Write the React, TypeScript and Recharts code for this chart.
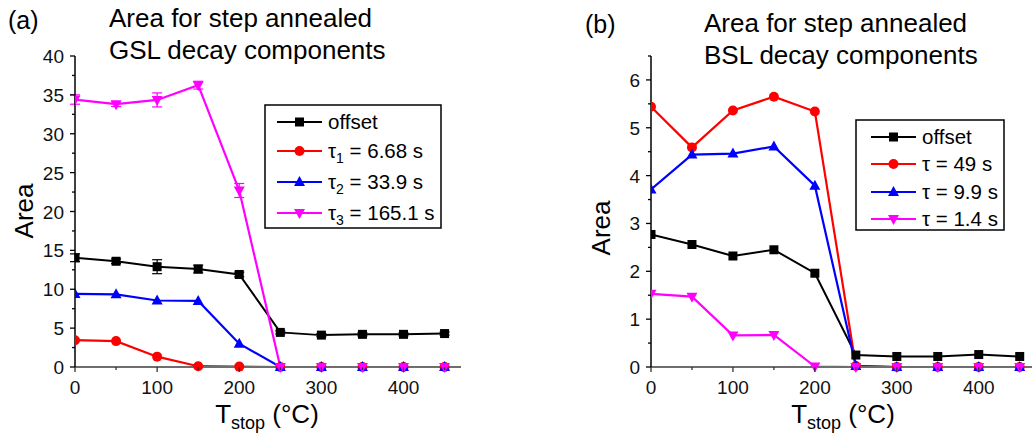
import React from 'react';
import { LineChart, Line, XAxis, YAxis, ErrorBar } from 'recharts';

const temps = [0, 50, 100, 150, 200, 250, 300, 350, 400, 450];

const gslOffset = [14.05, 13.6, 12.9, 12.6, 11.9, 4.45, 4.1, 4.2, 4.2, 4.3];
const gslOffsetErr = [0.5, 0.3, 0.9, 0.5, 0.3, 0.2, 0.2, 0.2, 0.2, 0.2];
const gslTau1 = [3.45, 3.33, 1.33, 0.1, 0.05, 0, 0, 0, 0, 0];
const gslTau2 = [9.4, 9.35, 8.55, 8.5, 3.0, 0, 0, 0, 0, 0];
const gslTau3 = [34.4, 33.8, 34.35, 36.25, 22.7, 0, 0, 0, 0, 0];
const gslTau3Err = [0.6, 0.3, 0.9, 0.5, 0.9, 0, 0, 0, 0, 0];

const bslOffset = [2.77, 2.56, 2.32, 2.45, 1.96, 0.25, 0.22, 0.22, 0.26, 0.22];
const bslTau49 = [5.44, 4.59, 5.36, 5.65, 5.34, 0.02, 0, 0, 0, 0];
const bslTau99 = [3.71, 4.44, 4.46, 4.61, 3.79, 0.02, 0, 0, 0, 0];
const bslTau14 = [1.53, 1.47, 0.66, 0.67, 0.01, 0, 0, 0, 0, 0];

const xTicks = [0, 50, 100, 150, 200, 250, 300, 350, 400, 450];
const yTicksA = [0, 2.5, 5, 7.5, 10, 12.5, 15, 17.5, 20, 22.5, 25, 27.5, 30, 32.5, 35, 37.5, 40];
const yTicksB = [0, 0.5, 1, 1.5, 2, 2.5, 3, 3.5, 4, 4.5, 5, 5.5, 6, 6.5];

const FONT = '"Liberation Sans", Arial, sans-serif';
const BLACK = '#000000';
const RED = '#ff0000';
const BLUE = '#0000ff';
const MAGENTA = '#ff00ff';

const dataA = temps.map((t, i) => ({
  t,
  offset: gslOffset[i],
  offsetErr: gslOffsetErr[i],
  tau1: gslTau1[i],
  tau2: gslTau2[i],
  tau3: gslTau3[i],
  tau3Err: gslTau3Err[i],
}));

const dataB = temps.map((t, i) => ({
  t,
  offset: bslOffset[i],
  tau49: bslTau49[i],
  tau99: bslTau99[i],
  tau14: bslTau14[i],
}));

type Shape = 'square' | 'circle' | 'up' | 'down';

function MarkerShape({ cx, cy, shape, color }: { cx: number; cy: number; shape: Shape; color: string }) {
  if (cx == null || cy == null || isNaN(cx) || isNaN(cy)) return null;
  if (shape === 'square') return <rect x={cx - 4.5} y={cy - 4.5} width={9} height={9} fill={color} />;
  if (shape === 'circle') return <circle cx={cx} cy={cy} r={5} fill={color} />;
  if (shape === 'up')
    return <polygon points={`${cx},${cy - 6} ${cx - 5.5},${cy + 4} ${cx + 5.5},${cy + 4}`} fill={color} />;
  return <polygon points={`${cx},${cy + 6} ${cx - 5.5},${cy - 4} ${cx + 5.5},${cy - 4}`} fill={color} />;
}

const dotFn = (shape: Shape, color: string) => (props: any) => (
  <g key={`dot-${shape}-${props.index}`}>
    <MarkerShape cx={props.cx} cy={props.cy} shape={shape} color={color} />
  </g>
);

const makeYTick = (isMajor: (v: number) => boolean) => (props: any) => {
  const { x, y, payload } = props;
  const v = payload.value;
  const major = isMajor(v);
  const len = major ? 5 : 3;
  return (
    <g>
      <line x1={x - len} x2={x} y1={y} y2={y} stroke="#000" strokeWidth={1.3} />
      {major && (
        <text x={x - 11} y={y + 7} textAnchor="end" fontSize={19} fontFamily={FONT} fill="#111">
          {v}
        </text>
      )}
    </g>
  );
};

const XTick = (props: any) => {
  const { x, y, payload } = props;
  const v = payload.value;
  const major = v % 100 === 0;
  return (
    <g>
      <line x1={x} x2={x} y1={y} y2={y + (major ? 5 : 3)} stroke="#333" strokeWidth={1.3} />
      {major && (
        <text x={x} y={y + 27} textAnchor="middle" fontSize={19} fontFamily={FONT} fill="#111">
          {v}
        </text>
      )}
    </g>
  );
};

const YTickA = makeYTick((v) => v % 5 === 0);
const YTickB = makeYTick((v) => Number.isInteger(v));

type LegendItem = { label: React.ReactNode; color: string; shape: Shape };

const legendA: LegendItem[] = [
  { label: 'offset', color: BLACK, shape: 'square' },
  { label: <>{'\u03c4'}<tspan fontSize={14} dy={5}>1</tspan><tspan dy={-5}>{' = 6.68 s'}</tspan></>, color: RED, shape: 'circle' },
  { label: <>{'\u03c4'}<tspan fontSize={14} dy={5}>2</tspan><tspan dy={-5}>{' = 33.9 s'}</tspan></>, color: BLUE, shape: 'up' },
  { label: <>{'\u03c4'}<tspan fontSize={14} dy={5}>3</tspan><tspan dy={-5}>{' = 165.1 s'}</tspan></>, color: MAGENTA, shape: 'down' },
];

const legendB: LegendItem[] = [
  { label: 'offset', color: BLACK, shape: 'square' },
  { label: '\u03c4 = 49 s', color: RED, shape: 'circle' },
  { label: '\u03c4 = 9.9 s', color: BLUE, shape: 'up' },
  { label: '\u03c4 = 1.4 s', color: MAGENTA, shape: 'down' },
];

function LegendBox({ x, y, w, h, items, rows, lineX1, lineX2, textX }: any) {
  return (
    <g>
      <rect x={x} y={y} width={w} height={h} fill="#fff" stroke="#000" strokeWidth={1.5} />
      {items.map((it: LegendItem, i: number) => (
        <g key={i}>
          <line x1={lineX1} x2={lineX2} y1={rows[i]} y2={rows[i]} stroke={it.color} strokeWidth={2.2} />
          <MarkerShape cx={(lineX1 + lineX2) / 2} cy={rows[i]} shape={it.shape} color={it.color} />
          <text x={textX} y={rows[i] + 7} fontSize={20.5} fontFamily={FONT} fill="#000">
            {it.label}
          </text>
        </g>
      ))}
    </g>
  );
}

export default function App() {
  return (
    <div style={{ position: 'absolute', left: 0, top: 0, width: 1032, height: 438, background: '#fff', overflow: 'hidden' }}>
      <div style={{ position: 'absolute', left: 0, top: 0 }}>
        <LineChart width={520} height={438} data={dataA} margin={{ top: 56, right: 59, bottom: 41, left: 15 }}>
          <XAxis
            dataKey="t"
            type="number"
            domain={[0, 470]}
            ticks={xTicks}
            interval={0}
            tick={XTick}
            tickSize={0}
            tickMargin={0}
            tickLine={false}
            height={30}
            axisLine={{ stroke: '#6e6e6e', strokeWidth: 2 }}
            allowDataOverflow
          />
          <YAxis
            type="number"
            domain={[0, 40]}
            ticks={yTicksA}
            interval={0}
            tick={YTickA}
            tickSize={0}
            tickMargin={0}
            tickLine={false}
            width={60}
            axisLine={{ stroke: '#000', strokeWidth: 1.5 }}
          />
          <Line dataKey="offset" stroke={BLACK} strokeWidth={2} dot={dotFn('square', BLACK)} isAnimationActive={false}>
            <ErrorBar dataKey="offsetErr" width={5} stroke={BLACK} strokeWidth={1.2} direction="y" />
          </Line>
          <Line dataKey="tau1" stroke={RED} strokeWidth={2.2} dot={dotFn('circle', RED)} isAnimationActive={false} />
          <Line dataKey="tau2" stroke={BLUE} strokeWidth={2.2} dot={dotFn('up', BLUE)} isAnimationActive={false} />
          <Line dataKey="tau3" stroke={MAGENTA} strokeWidth={2.2} dot={dotFn('down', MAGENTA)} isAnimationActive={false}>
            <ErrorBar dataKey="tau3Err" width={5} stroke={MAGENTA} strokeWidth={1.2} direction="y" />
          </Line>
        </LineChart>
      </div>
      <div style={{ position: 'absolute', left: 520, top: 0 }}>
        <LineChart width={512} height={438} data={dataB} margin={{ top: 56, right: 0, bottom: 41, left: 71 }}>
          <XAxis
            dataKey="t"
            type="number"
            domain={[0, 465]}
            ticks={xTicks}
            interval={0}
            tick={XTick}
            tickSize={0}
            tickMargin={0}
            tickLine={false}
            height={30}
            axisLine={{ stroke: '#6e6e6e', strokeWidth: 2 }}
            allowDataOverflow
          />
          <YAxis
            type="number"
            domain={[0, 6.5]}
            ticks={yTicksB}
            interval={0}
            tick={YTickB}
            tickSize={0}
            tickMargin={0}
            tickLine={false}
            width={60}
            axisLine={{ stroke: '#000', strokeWidth: 1.5 }}
          />
          <Line dataKey="offset" stroke={BLACK} strokeWidth={2} dot={dotFn('square', BLACK)} isAnimationActive={false} />
          <Line dataKey="tau49" stroke={RED} strokeWidth={2.2} dot={dotFn('circle', RED)} isAnimationActive={false} />
          <Line dataKey="tau99" stroke={BLUE} strokeWidth={2.2} dot={dotFn('up', BLUE)} isAnimationActive={false} />
          <Line dataKey="tau14" stroke={MAGENTA} strokeWidth={2.2} dot={dotFn('down', MAGENTA)} isAnimationActive={false} />
        </LineChart>
      </div>
      <svg
        width={1032}
        height={438}
        style={{ position: 'absolute', left: 0, top: 0, pointerEvents: 'none' }}
        fontFamily={FONT}
      >
        <text x={8} y={29} fontSize={25} fill="#000">(a)</text>
        <text x={109} y={27} fontSize={26} fill="#000">Area for step annealed</text>
        <text x={109} y={59} fontSize={26} fill="#000">GSL decay components</text>
        <text x={585} y={33} fontSize={25} fill="#000">(b)</text>
        <text x={704} y={32} fontSize={26} fill="#000">Area for step annealed</text>
        <text x={704} y={64} fontSize={26} fill="#000">BSL decay components</text>

        <text transform="translate(33,211) rotate(-90)" textAnchor="middle" fontSize={26} fill="#000">Area</text>
        <text transform="translate(610,228) rotate(-90)" textAnchor="middle" fontSize={26} fill="#000">Area</text>

        <text x={267} y={423} textAnchor="middle" fontSize={26} fill="#000">
          T<tspan fontSize={18} dy={6}>stop</tspan><tspan dy={-6}>{' (\u00b0C)'}</tspan>
        </text>
        <text x={843} y={423} textAnchor="middle" fontSize={26} fill="#000">
          T<tspan fontSize={18} dy={6}>stop</tspan><tspan dy={-6}>{' (\u00b0C)'}</tspan>
        </text>

        <LegendBox x={265} y={105} w={176} h={123} items={legendA} rows={[122, 151, 182, 213]} lineX1={277} lineX2={322} textX={328} />
        <LegendBox x={856} y={120} w={148} h={110} items={legendB} rows={[137, 164, 192, 219]} lineX1={871} lineX2={916} textX={922} />
      </svg>
    </div>
  );
}
